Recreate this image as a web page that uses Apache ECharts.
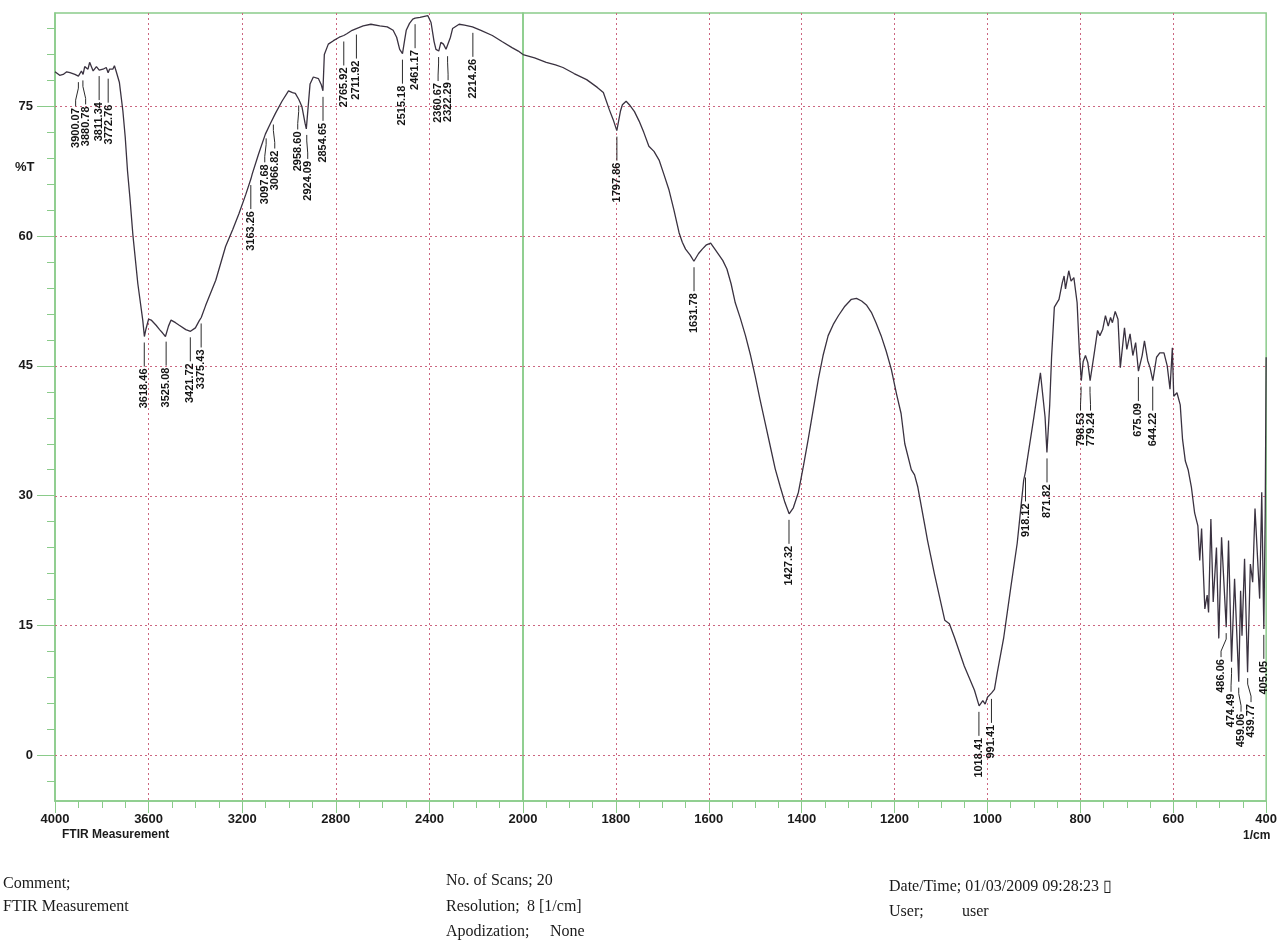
<!DOCTYPE html>
<html><head><meta charset="utf-8">
<script src="https://cdn.jsdelivr.net/npm/echarts@6/dist/echarts.min.js"></script>
<style>html,body{margin:0;padding:0;background:#fff}#c{width:1280px;height:949px}</style>
</head><body><div id="c"></div>
<script>
// ---- data: FTIR spectrum, [wavenumber (1/cm), %T] ----
const spectrumHigh = [
[4000,79.0],[3993,78.9],[3980,78.6],[3965,78.7],[3950,79.0],[3936,78.9],[3915,78.7],[3900,78.5],[3887,79.1],[3880,78.7],
[3873,79.6],[3859,79.3],[3852,80.1],[3837,79.1],[3823,79.6],[3815,79.8],[3811,79.2],[3795,79.3],[3781,79.5],[3773,78.9],
[3767,79.3],[3753,79.3],[3746,79.7],[3739,79.1],[3735,79.0],[3725,77.8],[3710,74.5],[3700,71.5],[3690,67.5],[3680,64.5],
[3667,60.1],[3646,54.5],[3625,50.3],[3618,48.4],[3611,49.3],[3600,50.4],[3589,50.3],[3568,49.7],[3553,49.2],[3540,48.8],
[3528,48.4],[3515,49.6],[3504,50.3],[3485,50.0],[3469,49.7],[3441,49.2],[3421,49.0],[3400,49.4],[3384,50.2],[3375,50.6],
[3356,52.0],[3313,54.9],[3271,58.8],[3240,60.8],[3214,62.6],[3185,64.8],[3163,66.6],[3157,67.2],[3130,69.5],[3101,71.8],
[3080,73.0],[3058,74.2],[3030,75.6],[3002,76.8],[2985,76.6],[2973,76.5],[2958,75.8],[2945,75.0],[2931,73.0],[2926,72.4],
[2910,77.6],[2896,78.4],[2874,78.2],[2862,77.5],[2855,76.8],[2849,81.0],[2832,82.2],[2810,82.6],[2785,83.0],[2766,83.2],
[2753,83.4],[2730,83.8],[2712,84.0],[2683,84.3],[2650,84.5],[2612,84.3],[2580,84.2],[2555,83.8],[2540,83.0],[2527,81.6],
[2515,81.1],[2505,82.8],[2499,83.8],[2485,84.6],[2471,85.1],[2461,85.2],[2440,85.3],[2407,85.5],[2400,85.7],[2393,84.7],
[2380,82.5],[2372,81.6],[2360,81.4],[2351,82.4],[2340,82.2],[2329,81.6],[2322,81.5],[2310,83.0],[2301,84.0],[2273,84.5],
[2250,84.4],[2216,84.2],[2180,83.8],[2131,83.2],[2090,82.5],[2047,81.8],[2020,81.4],[2000,81.0]
];
const spectrumLow = [
[2000,81.0],[1975,80.6],[1950,80.1],[1930,79.8],[1914,79.5],[1890,78.8],[1863,78.1],[1840,77.2],[1827,76.6],[1814,74.6],
[1806,73.5],[1798,72.2],[1790,74.5],[1786,75.2],[1778,75.6],[1771,75.2],[1760,74.4],[1750,73.3],[1740,72.0],[1729,70.4],
[1718,69.8],[1707,68.8],[1697,67.2],[1686,65.4],[1675,63.0],[1664,60.4],[1657,59.3],[1650,58.5],[1640,57.8],[1632,57.1],
[1622,58.0],[1614,58.5],[1605,59.0],[1596,59.2],[1588,58.6],[1579,57.9],[1570,57.2],[1561,56.2],[1552,54.5],[1543,52.3],
[1532,50.5],[1521,48.5],[1510,46.2],[1500,43.8],[1490,41.2],[1479,38.5],[1468,35.8],[1457,33.1],[1446,31.0],[1436,29.2],
[1427,27.9],[1418,28.6],[1407,30.4],[1396,33.5],[1386,36.5],[1375,40.0],[1364,43.5],[1354,46.2],[1343,48.5],[1332,49.8],
[1321,50.8],[1307,51.9],[1293,52.7],[1282,52.8],[1271,52.5],[1260,52.0],[1250,51.2],[1240,50.0],[1229,48.5],[1218,46.7],
[1207,44.6],[1196,41.8],[1186,39.5],[1178,36.0],[1164,33.0],[1157,32.4],[1150,31.0],[1135,26.6],[1129,24.8],[1114,20.9],
[1092,15.6],[1082,15.2],[1071,13.6],[1050,10.3],[1028,7.5],[1018,5.7],[1010,6.3],[1005,5.9],[1000,6.7],[991,7.2],
[985,7.6],[979,9.5],[965,13.6],[950,19.3],[936,24.5],[922,31.8],[918,32.8],[915,33.9],[900,39.1],[886,44.2],
[876,39.1],[872,35.0],[866,40.5],[862,46.0],[856,51.8],[846,52.7],[839,54.6],[835,55.4],[832,53.9],[825,56.0],
[820,54.8],[814,55.2],[807,52.3],[802,46.5],[798,43.3],[794,45.5],[789,46.2],[784,45.4],[779,43.3],[770,46.5],
[763,49.1],[758,48.5],[752,49.2],[746,50.8],[740,49.6],[735,50.6],[731,50.0],[725,51.3],[719,50.4],[714,44.8],
[705,49.4],[700,46.9],[693,48.7],[687,46.2],[681,47.7],[675,44.4],[667,46.2],[662,47.9],[655,45.6],[650,44.8],
[644,43.3],[636,46.0],[629,46.5],[620,46.5],[613,45.0],[607,42.3],[602,47.1],[599,41.5],[592,41.9],[585,40.5],
[580,36.5],[574,34.0],[568,33.0],[561,31.0],[554,28.0],[547,26.5],[543,22.5],[539,26.2],[532,16.9],[527,18.5],
[524,16.5],[519,27.3],[514,17.7],[507,24.0],[502,13.5],[496,25.2],[486,14.8],[481,24.8],[474.5,10.8],[468,20.4],
[459,8.5],[455,19.0],[452,13.8],[446.5,22.7],[440,9.6],[434,22.1],[429,20.0],[424,28.5],[414,18.1],[409.5,30.4],
[405,14.6],[402,28.0],[400,46.0]
];
// peak picks: [wavenumber, %T at the peak]
const peaksHigh = [
[3900.07,78.5],[3880.78,78.7],[3811.34,79.2],[3772.76,78.9],[3618.46,48.4],[3525.08,48.5],[3421.72,49.0],[3375.43,50.6],
[3163.26,66.6],[3097.68,72.0],[3066.82,73.6],[2958.60,75.8],[2924.09,72.4],[2854.65,76.8],[2765.92,83.2],[2711.92,84.0],
[2515.18,81.1],[2461.17,85.2],[2360.67,81.4],[2322.29,81.5],[2214.26,84.2]
];
const peaksLow = [
[1797.86,72.2],[1631.78,57.1],[1427.32,27.9],[1018.41,5.7],[991.41,7.2],[918.12,32.8],[871.82,35.0],[798.53,43.3],
[779.24,43.3],[675.09,44.4],[644.22,43.3],[486.06,14.8],[474.49,10.8],[459.06,8.5],[439.77,9.6],[405.05,14.6]
];
const yMajorTicks = [0,15,30,45,60,75];
const yMinorTicks = [-3,0,3,6,9,12,15,18,21,24,27,30,33,36,39,42,45,48,51,54,57,60,63,66,69,72,75,78,81,84];
const rangeHigh = [4000, 2000];
const rangeLow = [2000, 400];

// ---- styles ----
const GREEN = '#8acb8a';
const GRIDC = '#cc6680';
const CURVE = '#3a3240';
const SANS = '"Liberation Sans", Arial, sans-serif';
const SERIF = '"Liberation Serif", "Times New Roman", serif';
const YMIN = -5.3, YMAX = 85.8;

function makeLabelRenderer(items) {
  let layout = null;
  const GAP = 10;
  return function (params, api) {
    if (params.dataIndexInside === 0 || !layout) {
      const pts = items.map(it => api.coord([it[0], it[1]]));
      const order = pts.map((p, i) => i).sort((a, b) => pts[a][0] - pts[b][0]);
      const xs = order.map(i => pts[i][0]);
      for (let k = 0; k < 300; k++) {
        let moved = false;
        for (let j = 1; j < xs.length; j++) {
          const d = xs[j] - xs[j - 1];
          if (d < GAP - 0.01) { const s = (GAP - d) / 2; xs[j - 1] -= s; xs[j] += s; moved = true; }
        }
        if (!moved) break;
      }
      const tx = new Array(items.length);
      order.forEach((i, j) => { tx[i] = xs[j]; });
      layout = { pts, tx };
    }
    const i = params.dataIndex;
    const p = layout.pts[i];
    const x1 = layout.tx[i];
    const y0 = p[1] + 6, y1 = y0 + 24;
    const line = Math.abs(x1 - p[0]) < 0.5
      ? [[p[0], y0], [p[0], y1]]
      : [[p[0], y0], [p[0], y0 + 6], [x1, y1 - 6], [x1, y1]];
    return {
      type: 'group',
      children: [
        { type: 'polyline', shape: { points: line }, style: { stroke: '#2b2b2b', lineWidth: 1, fill: null } },
        { type: 'text', x: x1, y: y1 + 2, rotation: Math.PI / 2,
          style: { text: items[i][0].toFixed(2), font: 'bold 11px ' + SANS, fill: '#141414',
                   align: 'right', verticalAlign: 'middle' } }
      ]
    };
  };
}

function makeHLineRenderer(range) {
  return function (params, api) {
    const v = api.value(0);
    const a = api.coord([range[0], v]);
    const b = api.coord([range[1], v]);
    const y = Math.round(a[1]) + 0.5;
    return { type: 'line', shape: { x1: a[0], y1: y, x2: b[0], y2: y },
      style: { stroke: GRIDC, lineWidth: 1, lineDash: [2, 3] }, silent: true };
  };
}

const xLabel = { margin: 12, fontSize: 13, fontWeight: 'bold', fontFamily: SANS, color: '#1a1a1a',
  formatter: v => String(v) };
const xCommon = {
  type: 'value', inverse: true,
  axisLine: { show: true, onZero: false, lineStyle: { color: GREEN, width: 1.5 } },
  axisTick: { show: true, length: 12, lineStyle: { color: GREEN } },
  minorTick: { show: true, splitNumber: 4, length: 7, lineStyle: { color: GREEN } },
  splitLine: { show: true, showMinLine: false, showMaxLine: false, lineStyle: { color: GRIDC, type: [2, 3], width: 1 } }
};

const chart = echarts.init(document.getElementById('c'), null, { renderer: 'canvas' });
chart.setOption({
  animation: false,
  backgroundColor: '#ffffff',
  grid: [
    { left: 55, top: 13, width: 468, height: 788, show: true, borderColor: GREEN, borderWidth: 1.5, backgroundColor: 'transparent' },
    { left: 523, top: 13, width: 749, height: 788, show: true, borderColor: GREEN, borderWidth: 1.5, backgroundColor: 'transparent' }
  ],
  xAxis: [
    Object.assign({}, xCommon, { gridIndex: 0, min: 2000, max: 4000, interval: 400,
      axisLabel: Object.assign({}, xLabel, { showMinLabel: false }) }),
    Object.assign({}, xCommon, { gridIndex: 1, min: 400, max: 2000, interval: 200,
      axisLabel: Object.assign({}, xLabel) })
  ],
  yAxis: [
    { gridIndex: 0, type: 'value', min: YMIN, max: YMAX, position: 'left',
      axisLine: { show: true, onZero: false, lineStyle: { color: GREEN, width: 1.5 } },
      axisTick: { show: true, length: 18, customValues: yMajorTicks, lineStyle: { color: GREEN } },
      axisLabel: { customValues: yMajorTicks, margin: 22, fontSize: 13, fontWeight: 'bold', fontFamily: SANS, color: '#1a1a1a' },
      splitLine: { show: false } },
    { gridIndex: 0, type: 'value', min: YMIN, max: YMAX, position: 'left',
      axisLine: { show: false },
      axisTick: { show: true, length: 8, customValues: yMinorTicks, lineStyle: { color: GREEN } },
      axisLabel: { show: false }, splitLine: { show: false } },
    { gridIndex: 1, type: 'value', min: YMIN, max: YMAX, show: false }
  ],
  series: [
    { type: 'custom', xAxisIndex: 0, yAxisIndex: 0, data: yMajorTicks.map(v => [v]), encode: { y: 0 },
      renderItem: makeHLineRenderer(rangeHigh), silent: true, z: 1 },
    { type: 'custom', xAxisIndex: 1, yAxisIndex: 2, data: yMajorTicks.map(v => [v]), encode: { y: 0 },
      renderItem: makeHLineRenderer(rangeLow), silent: true, z: 1 },
    { type: 'line', xAxisIndex: 0, yAxisIndex: 0, data: spectrumHigh, symbol: 'none', showSymbol: false,
      lineStyle: { color: CURVE, width: 1.3 }, z: 3 },
    { type: 'line', xAxisIndex: 1, yAxisIndex: 2, data: spectrumLow, symbol: 'none', showSymbol: false,
      lineStyle: { color: CURVE, width: 1.3 }, z: 3 },
    { type: 'custom', xAxisIndex: 0, yAxisIndex: 0, data: peaksHigh, encode: { x: 0, y: 1 },
      renderItem: makeLabelRenderer(peaksHigh), clip: false, z: 4 },
    { type: 'custom', xAxisIndex: 1, yAxisIndex: 2, data: peaksLow, encode: { x: 0, y: 1 },
      renderItem: makeLabelRenderer(peaksLow), clip: false, z: 4 }
  ],
  graphic: [
    { type: 'text', left: 15, top: 161, style: { text: '%T', font: 'bold 13px ' + SANS, fill: '#1a1a1a' } },
    { type: 'text', left: 62, top: 829, style: { text: 'FTIR Measurement', font: 'bold 12px ' + SANS, fill: '#1a1a1a' } },
    { type: 'text', left: 1243, top: 830, style: { text: '1/cm', font: 'bold 12px ' + SANS, fill: '#1a1a1a' } },
    { type: 'text', left: 3, top: 876, style: { text: 'Comment;', font: '16px ' + SERIF, fill: '#1a1a1a' } },
    { type: 'text', left: 3, top: 899, style: { text: 'FTIR Measurement', font: '16px ' + SERIF, fill: '#1a1a1a' } },
    { type: 'text', left: 446, top: 873, style: { text: 'No. of Scans; 20', font: '16px ' + SERIF, fill: '#1a1a1a' } },
    { type: 'text', left: 446, top: 899, style: { text: 'Resolution;', font: '16px ' + SERIF, fill: '#1a1a1a' } },
    { type: 'text', left: 527, top: 899, style: { text: '8 [1/cm]', font: '16px ' + SERIF, fill: '#1a1a1a' } },
    { type: 'text', left: 446, top: 924, style: { text: 'Apodization;', font: '16px ' + SERIF, fill: '#1a1a1a' } },
    { type: 'text', left: 550, top: 924, style: { text: 'None', font: '16px ' + SERIF, fill: '#1a1a1a' } },
    { type: 'text', left: 889, top: 879, style: { text: 'Date/Time; 01/03/2009 09:28:23 \u25AF', font: '16px ' + SERIF, fill: '#1a1a1a' } },
    { type: 'text', left: 889, top: 904, style: { text: 'User;', font: '16px ' + SERIF, fill: '#1a1a1a' } },
    { type: 'text', left: 962, top: 904, style: { text: 'user', font: '16px ' + SERIF, fill: '#1a1a1a' } }
  ]
});
</script>
</body></html>
